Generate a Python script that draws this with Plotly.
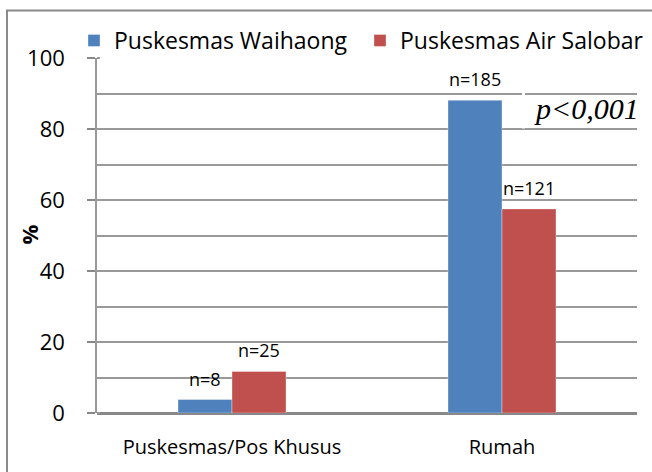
import plotly.graph_objects as go

categories = ["Puskesmas/Pos Khusus", "Rumah"]
waihaong_pct = [3.8, 88.1]
salobar_pct = [11.7, 57.5]
waihaong_n = ["n=8", "n=185"]
salobar_n = ["n=25", "n=121"]
series_names = ["Puskesmas Waihaong", "Puskesmas Air Salobar"]
y_ticks = [0, 20, 40, 60, 80, 100]
y_title = "%"
p_label = "p<0,001"

W, H = 652, 472
L, R, T, B = 97, 15, 57.5, 59.3
pw, ph = W - L - R, H - T - B

FONT = "Open Sans"
fig = go.Figure()
fig.add_trace(go.Bar(
    x=categories, y=waihaong_pct, name=series_names[0],
    marker=dict(color="#4F81BD", line=dict(color="rgba(255,255,255,0.35)", width=1)),
))
fig.add_trace(go.Bar(
    x=categories, y=salobar_pct, name=series_names[1],
    marker=dict(color="#C0504D", line=dict(color="rgba(255,255,255,0.35)", width=1)),
))

def px_to_xp(px):
    return (px - L) / pw

def px_to_yp(py):
    return (H - B - py) / ph

annotations = []
for vals, labels, shift in ((waihaong_pct, waihaong_n, -27), (salobar_pct, salobar_n, 27)):
    for cat, v, lab in zip(categories, vals, labels):
        annotations.append(dict(
            x=cat, y=v, xref="x", yref="y", text=lab, showarrow=False,
            xshift=shift, yshift=7, yanchor="bottom", xanchor="center",
            font=dict(family=FONT, size=18, color="#000")))

annotations.append(dict(
    text="<i>" + p_label + "</i>", xref="paper", yref="paper",
    x=px_to_xp(641), y=px_to_yp(108), xanchor="right", yanchor="middle",
    showarrow=False, font=dict(family="Liberation Serif", size=30, color="#000")))
annotations.append(dict(
    text="<b>" + y_title + "</b>", xref="paper", yref="paper",
    x=px_to_xp(29), y=px_to_yp(234), xanchor="center", yanchor="middle",
    textangle=-90, showarrow=False, font=dict(family=FONT, size=22, color="#000")))

fig.update_layout(
    width=W, height=H,
    margin=dict(l=L, r=R, t=T, b=B, pad=0, autoexpand=False),
    paper_bgcolor="white", plot_bgcolor="white",
    barmode="group", bargap=0.6, bargroupgap=0,
    font=dict(family=FONT, size=20, color="#000"),
    showlegend=True,
    legend=dict(orientation="h", x=px_to_xp(74), xanchor="left",
                y=px_to_yp(40), yanchor="middle",
                font=dict(family=FONT, size=23, color="#000"),
                bgcolor="rgba(0,0,0,0)", itemwidth=30, tracegroupgap=0,
                entrywidth=241, entrywidthmode="pixels"),
    xaxis=dict(showgrid=False, showline=False, ticks="", zeroline=False,
               automargin=False,
               tickfont=dict(family=FONT, size=20), ticklabelstandoff=20),
    yaxis=dict(range=[0, 100], tickvals=y_ticks, ticks="outside", ticklen=8,
               automargin=False,
               tickcolor="#888", tickwidth=1.5,
               showline=True, linecolor="#999", linewidth=1.5,
               showgrid=True, gridcolor="#999", gridwidth=1.5,
               minor=dict(dtick=10, showgrid=True, gridcolor="#999", gridwidth=1.5,
                          ticks="inside", ticklen=3, tickcolor="#999"),
               zeroline=True, zerolinecolor="#888", zerolinewidth=2.5,
               tickfont=dict(family=FONT, size=22), ticklabelstandoff=18),
    shapes=[
        dict(type="rect", xref="paper", yref="paper",
             x0=px_to_xp(7), x1=px_to_xp(700), y0=px_to_yp(520), y1=px_to_yp(10),
             line=dict(color="#8a8a8a", width=2), fillcolor="rgba(0,0,0,0)", layer="above"),
        dict(type="line", xref="paper", yref="paper",
             x0=px_to_xp(523.5), x1=px_to_xp(523.5), y0=px_to_yp(86), y1=px_to_yp(128),
             line=dict(color="white", width=3), layer="above"),
    ],
    annotations=annotations,
)

fig.write_html("out.html", config={"displayModeBar": False},
               post_script="document.body.style.margin='0';document.documentElement.style.overflow='hidden';")
